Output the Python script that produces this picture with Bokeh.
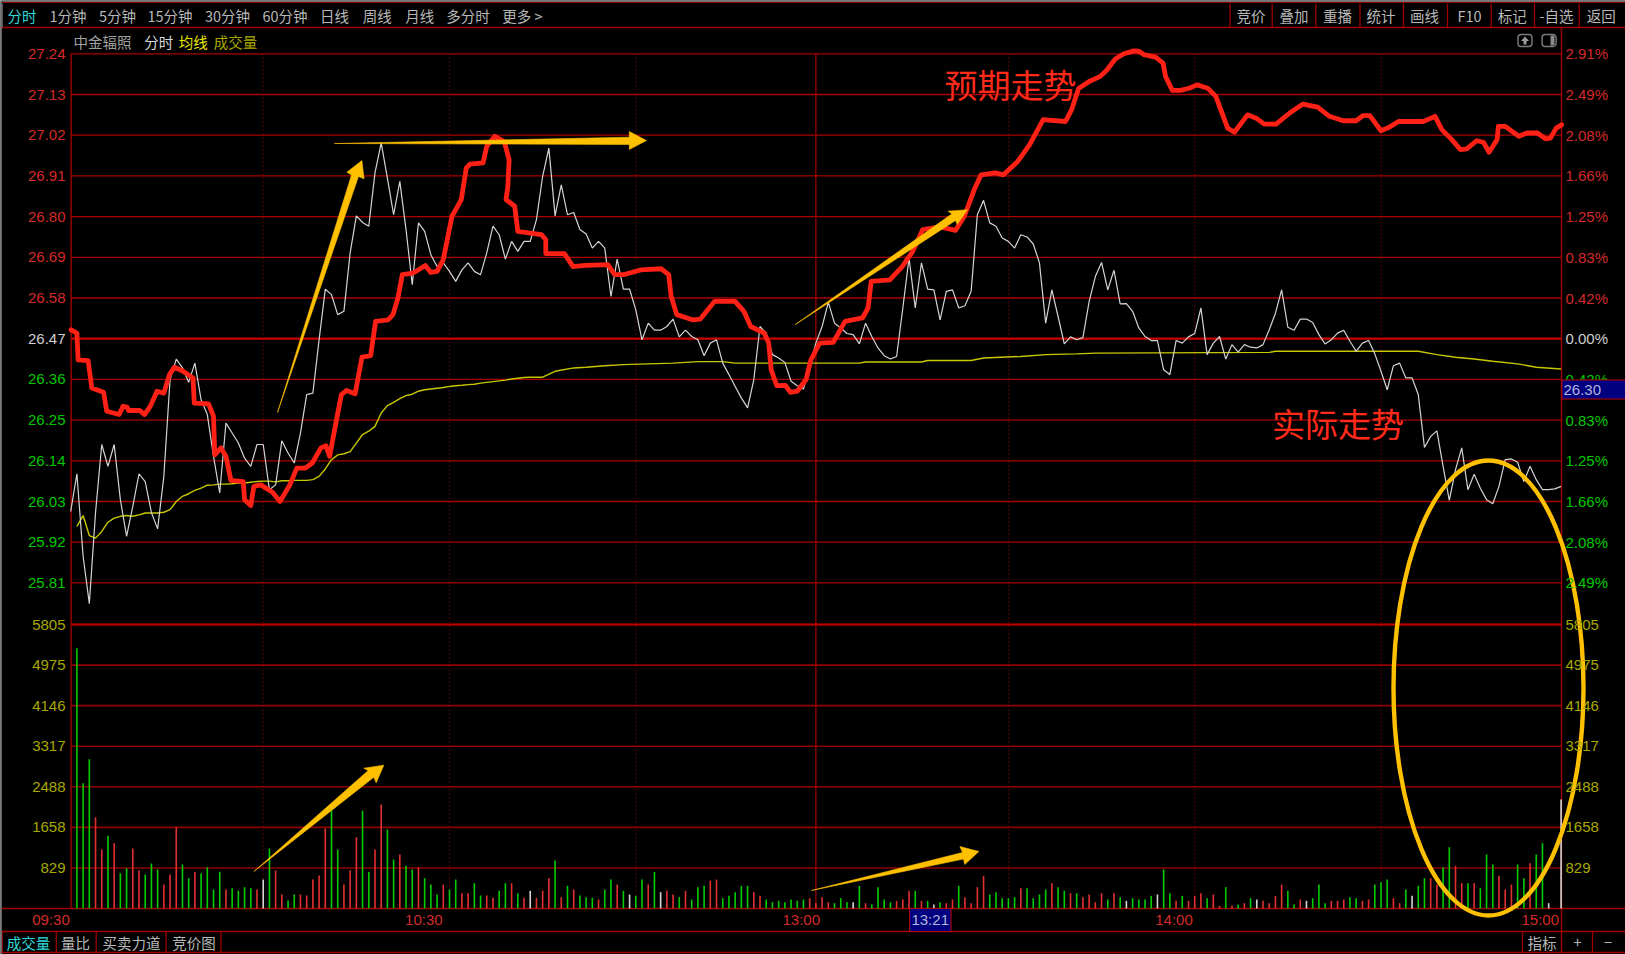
from bokeh.plotting import figure
from bokeh.models import Range1d
from bokeh.core.properties import value
from bokeh.embed import file_html
from bokeh.resources import INLINE

# ---------- data ----------
price_ticks = [27.24, 27.13, 27.02, 26.91, 26.80, 26.69, 26.58, 26.47, 26.36, 26.25, 26.14, 26.03, 25.92, 25.81]
price_labels = ["27.24", "27.13", "27.02", "26.91", "26.80", "26.69", "26.58", "26.47", "26.36", "26.25", "26.14", "26.03", "25.92", "25.81"]
pct_labels = ["2.91%", "2.49%", "2.08%", "1.66%", "1.25%", "0.83%", "0.42%", "0.00%", "0.42%", "0.83%", "1.25%", "1.66%", "2.08%", "2.49%"]
vol_ticks = [5805, 4975, 4146, 3317, 2488, 1658, 829]
vol_labels = ["5805", "4975", "4146", "3317", "2488", "1658", "829"]
dotted_minutes = [30, 60, 90, 150, 180, 210]
noon_minute = 119

# close price per minute, minute -1 .. 239
white_price = [
    26.003, 26.105, 25.882, 25.754, 26.000, 26.184, 26.125, 26.184, 26.035, 25.936,
    26.017, 26.105, 26.084, 26.000, 25.956, 26.098, 26.359, 26.415, 26.391, 26.352,
    26.404, 26.305, 26.265, 26.152, 26.053, 26.242, 26.215, 26.188, 26.147, 26.125,
    26.184, 26.184, 26.062, 26.075, 26.194, 26.161, 26.134, 26.215, 26.319, 26.323,
    26.467, 26.604, 26.589, 26.535, 26.544, 26.702, 26.802, 26.784, 26.774, 26.918,
    26.999, 26.904, 26.805, 26.895, 26.765, 26.616, 26.783, 26.760, 26.697, 26.665,
    26.675, 26.652, 26.625, 26.656, 26.675, 26.652, 26.643, 26.702, 26.774, 26.751,
    26.685, 26.733, 26.706, 26.733, 26.733, 26.792, 26.909, 26.985, 26.802, 26.886,
    26.805, 26.811, 26.765, 26.753, 26.715, 26.733, 26.715, 26.584, 26.685, 26.604,
    26.604, 26.548, 26.467, 26.512, 26.493, 26.493, 26.503, 26.523, 26.475, 26.493,
    26.476, 26.467, 26.424, 26.458, 26.467, 26.404, 26.373, 26.341, 26.310, 26.283,
    26.359, 26.503, 26.485, 26.427, 26.418, 26.406, 26.355, 26.343, 26.334, 26.395,
    26.458, 26.503, 26.568, 26.512, 26.499, 26.484, 26.481, 26.456, 26.512, 26.476,
    26.445, 26.424, 26.415, 26.422, 26.553, 26.688, 26.553, 26.675, 26.604, 26.602,
    26.521, 26.598, 26.602, 26.553, 26.559, 26.598, 26.805, 26.844, 26.783, 26.774,
    26.742, 26.733, 26.715, 26.751, 26.745, 26.726, 26.675, 26.512, 26.602, 26.530,
    26.456, 26.475, 26.467, 26.473, 26.570, 26.638, 26.676, 26.602, 26.655, 26.564,
    26.565, 26.544, 26.499, 26.476, 26.465, 26.465, 26.386, 26.373, 26.465, 26.458,
    26.475, 26.484, 26.553, 26.427, 26.458, 26.476, 26.415, 26.454, 26.434, 26.454,
    26.447, 26.445, 26.454, 26.494, 26.539, 26.602, 26.501, 26.493, 26.523, 26.523,
    26.514, 26.481, 26.456, 26.467, 26.485, 26.493, 26.463, 26.436, 26.458, 26.465,
    26.429, 26.382, 26.332, 26.397, 26.404, 26.364, 26.364, 26.319, 26.176, 26.206,
    26.221, 26.125, 26.033, 26.116, 26.175, 26.062, 26.104, 26.066, 26.035, 26.024,
    26.071, 26.143, 26.145, 26.136, 26.084, 26.125, 26.089, 26.062, 26.062, 26.064,
    26.071,
]
assert len(white_price) == 241, len(white_price)

avg_minute = list(range(0, 74)) + [75, 77, 80, 82, 85, 88, 92, 96, 100, 104, 106, 114, 118, 126, 127, 136, 137,
                                    144, 146, 152, 156, 161, 164, 192, 193, 216, 219, 222, 225, 228, 232, 235, 239]
avg_price = [
    25.963, 25.992, 25.938, 25.931, 25.949, 25.974, 25.985, 25.990, 25.992, 25.990,
    25.994, 25.999, 25.999, 25.999, 26.001, 26.008, 26.030, 26.044, 26.051, 26.060,
    26.066, 26.074, 26.075, 26.077, 26.077, 26.078, 26.080, 26.080, 26.082, 26.084,
    26.085, 26.085, 26.083, 26.086, 26.086, 26.087, 26.087, 26.087, 26.089, 26.098,
    26.118, 26.143, 26.156, 26.159, 26.165, 26.188, 26.211, 26.220, 26.233, 26.269,
    26.289, 26.298, 26.308, 26.316, 26.320, 26.328, 26.332, 26.334, 26.336, 26.338,
    26.341, 26.343, 26.344, 26.346, 26.347, 26.350, 26.352, 26.354, 26.356, 26.358,
    26.361, 26.363, 26.365, 26.366,
    26.366, 26.382, 26.391, 26.393, 26.397, 26.400, 26.402, 26.404, 26.408, 26.408,
    26.404, 26.404, 26.404, 26.404, 26.407, 26.407, 26.411, 26.411, 26.418, 26.422,
    26.427, 26.429, 26.431, 26.433, 26.436, 26.436, 26.427, 26.420, 26.415, 26.409,
    26.402, 26.393, 26.388,
]
assert len(avg_minute) == len(avg_price), (len(avg_minute), len(avg_price))

# hand-drawn "expected" path: minute, price
red_minute = [
    -0.94, 0.0, 0.2, 1.8, 2.4, 4.3, 4.8, 6.8, 7.4, 8.1, 8.3, 10.1, 10.9, 11.8, 12.9, 14.0, 14.9, 15.7, 17.1, 18.7,
    18.9, 21.2, 22.0, 22.2, 23.2, 24.0, 24.8, 26.8, 27.0, 28.0, 28.5, 29.6, 31.5, 32.7, 34.3, 35.4, 36.8, 37.9,
    39.3, 40.1, 40.7, 41.8, 42.6, 43.4, 44.8, 45.9, 47.3, 48.1, 50.1, 50.9, 51.7, 52.4, 54.1, 56.1, 57.0, 58.0,
    59.0, 60.4, 61.9, 62.7, 63.3, 65.4, 66.0, 67.3, 68.8, 69.6, 69.4, 69.1, 70.5, 71.0, 74.8, 75.5, 75.5, 78.5,
    79.9, 81.9, 85.5, 86.6, 88.0, 90.8, 94.1, 95.3, 95.7, 96.6, 99.1, 100.4, 102.7, 106.0, 107.4, 108.5, 110.7,
    111.4, 111.8, 112.7, 114.1, 114.9, 116.0, 117.4, 118.2, 119.6, 121.8, 123.7, 126.5, 127.4, 127.9, 130.9,
    132.9, 134.6, 136.2, 139.0, 141.5, 142.9, 144.5, 145.6, 147.9, 149.2, 151.5, 153.4, 155.6, 159.2, 160.2,
    161.3, 163.0, 164.8, 165.9, 167.2, 168.6, 170.2, 171.0, 171.8, 173.7, 174.9, 175.3, 176.4, 177.7, 179.1,
    180.4, 182.1, 183.4, 184.2, 185.3, 186.4, 188.5, 189.9, 191.2, 193.1, 195.3, 197.4, 199.8, 201.7, 203.9,
    206.0, 207.1, 208.2, 210.0, 211.4, 212.8, 216.8, 218.7, 219.8, 221.4, 222.8, 223.8, 225.4, 226.5, 227.4,
    228.7, 228.9, 230.0, 232.2, 233.5, 235.2, 236.5, 237.3, 238.2, 239.1,
]
red_price = [
    26.494, 26.485, 26.413, 26.411, 26.337, 26.325, 26.274, 26.265, 26.287, 26.285, 26.276, 26.276, 26.265, 26.287,
    26.328, 26.323, 26.373, 26.393, 26.382, 26.364,
    26.296, 26.294, 26.260, 26.156, 26.175, 26.152, 26.087, 26.084, 26.035, 26.019, 26.071, 26.075, 26.055, 26.030,
    26.075, 26.120, 26.120, 26.134,
    26.175, 26.181, 26.152, 26.251, 26.319, 26.330, 26.321, 26.420, 26.424, 26.517, 26.521, 26.535, 26.580, 26.643,
    26.647, 26.668, 26.649, 26.652,
    26.684, 26.801, 26.846, 26.931, 26.942, 26.945, 26.990, 27.017, 27.003, 26.954, 26.882, 26.846, 26.828, 26.760,
    26.751, 26.738, 26.700, 26.700,
    26.665, 26.668, 26.670, 26.643, 26.643, 26.656, 26.659, 26.643, 26.584, 26.535, 26.521, 26.523, 26.571, 26.571,
    26.544, 26.503, 26.485,
    26.458, 26.386, 26.343, 26.344, 26.325, 26.328, 26.359, 26.413, 26.458, 26.460, 26.517, 26.526, 26.553, 26.625,
    26.629,
    26.665, 26.706, 26.765, 26.772, 26.763, 26.801, 26.873, 26.913, 26.918, 26.913, 26.949, 26.994, 27.062, 27.057,
    27.090,
    27.146, 27.165, 27.179, 27.197, 27.226, 27.240, 27.248, 27.247, 27.238, 27.231, 27.215, 27.179, 27.141, 27.141,
    27.147,
    27.156, 27.147, 27.125, 27.089, 27.039, 27.028, 27.075, 27.066, 27.050, 27.050, 27.080, 27.104, 27.096, 27.071,
    27.059,
    27.059, 27.073, 27.073, 27.032, 27.042, 27.057, 27.057, 27.071, 27.035, 27.008, 26.981, 26.983, 27.005, 27.001,
    26.974,
    27.008, 27.044, 27.044, 27.017, 27.026, 27.026, 27.010, 27.012, 27.039, 27.048,
]
assert len(red_minute) == len(red_price), (len(red_minute), len(red_price))

volumes = [
    5320, 2560, 3050, 1866, 1205, 1485, 1335, 722, 824, 1226,
    776, 695, 919, 797, 490, 695, 1668, 899, 620, 749,
    722, 844, 388, 749, 388, 415, 361, 436, 415, 388,
    592, 1226, 776, 286, 163, 286, 286, 266, 592, 674,
    1634, 2002, 1205, 490, 776, 1457, 2002, 749, 1205, 2125,
    1614, 1001, 1103, 872, 797, 844, 620, 490, 286, 490,
    388, 592, 313, 313, 517, 266, 266, 218, 361, 517,
    517, 313, 218, 361, 218,
    368, 620, 981, 232, 463, 388, 266, 232, 218, 184,
    388, 592, 490, 361, 286, 259, 592, 490, 749, 334,
    361, 286, 232, 361, 184, 436, 463, 572, 592, 211,
    259, 334, 463, 463, 334, 259, 184, 129, 157, 129,
    184, 157, 184, 211, 109, 232, 129, 109, 211, 129,
    129, 463, 109, 82, 436, 184, 129, 157, 184, 361,
    361, 157, 157, 82, 129, 109, 184, 463, 232, 109,
    436, 667, 286, 334, 211, 211, 232, 415, 415, 211,
    286, 388, 517, 436, 361, 313, 313,
    232, 286, 129, 313, 184, 313, 232, 157, 211, 184,
    184, 259, 286, 797, 313, 157, 259, 157, 259, 313,
    211, 286, 54, 436, 54, 82, 109, 211, 184, 157,
    109, 259, 490, 361, 82, 184, 157, 211, 490, 109,
    157, 157, 184, 232, 211, 157, 184, 490, 538, 592,
    211, 109, 388, 259, 463, 620, 620, 490, 844, 1253,
    872, 517, 517, 517, 415, 1103, 899, 667, 388, 490,
    899, 620, 926, 1103, 1335, 109, 0, 2227,
]
vol_dir = (
    "GGGRRGRGGR" "RGGGRRRGGR" "GGGGRGGGGR" "WGRRGGRRRR"
    "RGGRRRGGRR" "GGRGGRGGGR" "GGRRGGRRGG" "RGRWR"
    "RRGRGRGGGR" "GGRGWGGRGW" "RRGRGGGRRG" "GGGGRRGGGG"
    "GGGRRRRGGG" "WGRGGGGRRR" "GRGWGRRGRR" "RRGGGGGRGG"
    "GGRGGRG"
    "RRRRGRGWGG" "GGWGGRGRRR" "GRRGRGRGWR" "RRRGGRWGGG"
    "RRRGGRRGGG" "RRGWGGRRGG" "RRGRGGGRRR" "GGRGGWWW"
)
assert len(volumes) == 240 and len(vol_dir) == 240, (len(volumes), len(vol_dir))

# ---------- scales (pixel calibration of the panes) ----------
W, H = 1625, 954
X0, XK = 76.4, 6.21          # minute 0 position, px per minute
PY0, PK = 53.3, 370.0        # 27.24 position, px per yuan
VY0, VK = 908.0, 284.0 / 5805

p = figure(
    width=W, height=H,
    x_range=Range1d((0 - X0) / XK, (W - X0) / XK),
    y_range=Range1d(27.24 - (H - PY0) / PK, 27.24 + PY0 / PK),
    x_axis_type=None, y_axis_type=None,
    min_border=0, toolbar_location=None, output_backend="svg",
    background_fill_color="#000000", border_fill_color="#000000", outline_line_color=None,
)
p.grid.visible = False
p.extra_y_ranges["vol"] = Range1d((VY0 - H) / VK, VY0 / VK)
p.extra_x_ranges["px"] = Range1d(0, W)
p.extra_y_ranges["py"] = Range1d(H, 0)

PX = dict(x_range_name="px", y_range_name="py")
CJK = value("Noto Sans CJK SC")
LAT = value("Liberation Sans")
GRID = "#a80000"
AX = "#a00000"
ORANGE = "#FFC000"
RED_T = "#d42a2a"
GREEN_T = "#00c800"
OLIVE_T = "#a8a800"


def lines(x0, y0, x1, y1, color, width=1.0, dash="solid", **kw):
    p.segment(x0=x0, y0=y0, x1=x1, y1=y1, line_color=color, line_width=width, line_dash=dash, **kw)


def txt(x, y, s, color, size, font=CJK, align="center", **kw):
    xs = x if isinstance(x, list) else [x]
    ys = y if isinstance(y, list) else [y]
    ss = s if isinstance(s, list) else [s]
    if len(xs) == 1 and len(ss) > 1:
        xs = xs * len(ss)
    colors = color if isinstance(color, list) else [color] * len(ss)
    p.text(x=xs, y=ys, text=ss, text_color=colors, text_font=font, text_font_size=f"{size}px",
           text_align=align, text_baseline="middle", **kw)


# ---------- grid ----------
XL, XR = 70.6, 1561.0
n = len(price_ticks)
lines([XL] * n, price_ticks, [XR] * n, price_ticks, GRID, 1.3, x_range_name="px")
lines([XL], [26.47], [XR], [26.47], "#c80000", 2.2, x_range_name="px")
m = len(vol_ticks)
lines([XL] * m, vol_ticks, [XR] * m, vol_ticks, "#900000", 1.6, x_range_name="px", y_range_name="vol")
lines([XL], [5805], [XR], [5805], "#c00000", 1.8, x_range_name="px", y_range_name="vol")

k = len(dotted_minutes)
lines(dotted_minutes, [53.3] * k, dotted_minutes, [908] * k, "#a00000", 1.0, "1 3", y_range_name="py")
lines([noon_minute], [53.3], [noon_minute], [908], "#a80000", 1.2, y_range_name="py")

# ---------- window frame (pixels) ----------
lines([0, 0, 0, 0], [27, 908, 931, 952], [W, W, W, W], [27, 908, 931, 952], "#a00000", 1.4, **PX)
lines([2], [2], [W], [2], "#8c0000", 1.0, **PX)
lines([XL, XR], [53, 27], [XL, XR], [908, 952], AX, 1.4, **PX)
sep_top = [1229.6, 1271.7, 1315.3, 1359.5, 1403, 1447, 1490.7, 1534, 1578.7]
lines(sep_top, [3] * 9, sep_top, [27] * 9, "#a00000", 1.3, **PX)
sep_bot = [1.7, 55.8, 95.7, 165.6, 220.4, 1522, 1592]
lines(sep_bot, [931] * 7, sep_bot, [952] * 7, "#a00000", 1.3, **PX)
lines([0.8, 1.7], [0, 3], [0.8, 1.7], [954, 27], "#707070", 1.2, **PX)
lines([0], [0.8], [W], [0.8], "#707070", 1.6, **PX)

# ---------- volume bars ----------
bar_col = {"G": "#00cc00", "R": "#e23030", "W": "#d4d4d4"}
p.vbar(x=list(range(240)), top=volumes, bottom=0, width=0.26,
       fill_color=[bar_col[c] for c in vol_dir], line_color=None, y_range_name="vol")

# ---------- price lines ----------
p.line(avg_minute, avg_price, line_color="#c8c800", line_width=1.4)
p.line(list(range(-1, 240)), white_price, line_color="#d4d4d4", line_width=1.2)
p.line(red_minute, red_price, line_color="#ff2016", line_width=4.8, line_join="round", line_cap="round")

# ---------- annotations ----------
arrows = [
    ([277, 351, 346.4, 361.4, 363.6, 358], [412, 174.5, 171.7, 160, 178.3, 176]),
    ([334, 628.8, 628.8, 646, 628.8, 628.8], [143, 136.7, 131, 140, 149, 144]),
    ([253.4, 367.7, 363.3, 383.3, 375.7, 373.3], [871, 770, 767.7, 764.7, 782.3, 776.7]),
    ([811, 962, 959.4, 978.4, 964.2, 963], [890, 852, 846, 851, 864, 858.5]),
    ([794.8, 951.5, 947.4, 967, 956.7, 955], [324, 213.3, 210.7, 209.3, 224, 220]),
]
for ax, ay in arrows:
    p.patch(ax, ay, fill_color=ORANGE, line_color=ORANGE, line_width=0.6, **PX)
p.ellipse(x=[1488], y=[687.5], width=[190], height=[455], fill_color=None,
          line_color=ORANGE, line_width=4.4, **PX)
txt(1010, 83, "预期走势", "#ff2a1a", 33, x_range_name="px", y_range_name="py")
txt(1337.5, 422, "实际走势", "#ff2a1a", 33, x_range_name="px", y_range_name="py")

# ---------- tick labels ----------
price_colors = [RED_T] * 7 + ["#d0d0d0"] + [GREEN_T] * 6
txt(65, price_ticks, price_labels, price_colors, 15, LAT, "right", x_range_name="px")
txt(1565, price_ticks, pct_labels, price_colors, 15, LAT, "left", x_range_name="px")
txt(65, vol_ticks, vol_labels, OLIVE_T, 15, LAT, "right", x_range_name="px", y_range_name="vol")
txt(1565, vol_ticks, vol_labels, OLIVE_T, 15, LAT, "left", x_range_name="px", y_range_name="vol")

txt([31.7, 404.6, 782, 1154.7, 1521], [919] * 5, ["09:30", "10:30", "13:00", "14:00", "15:00"],
    RED_T, 15, LAT, "left", **PX)

# last price tag
p.quad(left=[1561.4], right=[1625], top=[379.5], bottom=[398.5], fill_color="#000080", line_color="#c00000", line_width=1, **PX)
txt(1563, 389, "26.30", "#b4b4dc", 15, LAT, "left", **PX)

# crosshair time tag
p.quad(left=[909], right=[950.5], top=[908], bottom=[931], fill_color="#000080", line_color="#c00000", line_width=1, **PX)
txt(929.7, 919, "13:21", "#b4b4dc", 15, LAT, "center", **PX)

# ---------- menus ----------
GREY = "#b8b8b8"
top_x = [21.5, 67.5, 117, 169.5, 227, 284.5, 334, 376.7, 419.3, 467.5, 522]
top_s = ["分时", "1分钟", "5分钟", "15分钟", "30分钟", "60分钟", "日线", "周线", "月线", "多分时", "更多 >"]
top_c = ["#30d8d8"] + [GREY] * 10
txt(top_x, [14.5] * 11, top_s, top_c, 14.5, CJK, "center", **PX)
right_x = [1250.6, 1293.5, 1337, 1380.5, 1424, 1469, 1511.8, 1556, 1600.8]
right_s = ["竞价", "叠加", "重播", "统计", "画线", "F10", "标记", "-自选", "返回"]
txt(right_x, [14.5] * 9, right_s, GREY, 14.5, CJK, "center", **PX)

txt([102, 158.2, 192.8, 235], [40.5] * 4, ["中金辐照", "分时", "均线", "成交量"],
    ["#a0a0a0", "#d8d8d8", "#e8e800", OLIVE_T], 14.5, CJK, "center", **PX)

bot_x = [28, 75, 131, 193.6, 1541.5, 1577, 1607.6]
bot_s = ["成交量", "量比", "买卖力道", "竞价图", "指标", "+", "−"]
bot_c = ["#30d8d8"] + [GREY] * 6
txt(bot_x, [941.7] * 7, bot_s, bot_c, 14.5, CJK, "center", **PX)

# small window icons
p.rect(x=[1524.5, 1548.6], y=[40, 40], width=[14, 14], height=[12, 12], fill_color="#000000",
       line_color="#7c7c7c", line_width=1.4, border_radius=3, **PX)
p.patch([1520.5, 1524.5, 1528.5, 1526, 1526, 1523, 1523], [40.5, 36, 40.5, 40.5, 44, 44, 40.5],
        fill_color="#9a9a9a", line_color=None, **PX)
p.quad(left=[1550], right=[1554], top=[35], bottom=[45], fill_color="#8a8a8a", line_color=None, **PX)

html = file_html(p, INLINE)
open("out.html", "w").write(html)
